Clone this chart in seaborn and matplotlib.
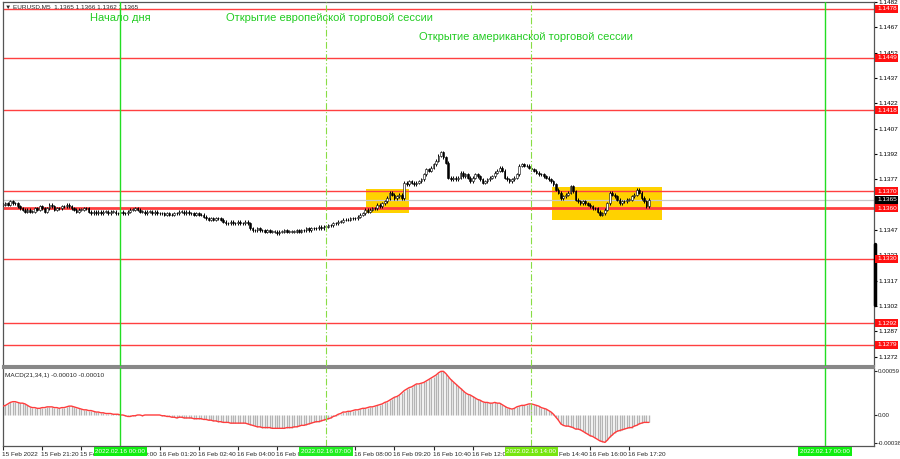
import datetime as dt
import numpy as np
import pandas as pd
import seaborn as sns
import matplotlib
matplotlib.use('Agg')
import matplotlib.pyplot as plt
import matplotlib.transforms as mtrans
from matplotlib.patches import Rectangle

# EURUSD M5 closes, pips above 1.1300, bars from 15 Feb 20:00
closes = [62, 63, 62, 64, 63, 63, 61, 60, 59, 58,
          59, 58, 58, 60, 59, 61, 60, 58, 60, 62,
          61, 59, 60, 60, 61, 61, 62, 61, 60, 59,
          58, 59, 59, 60, 60, 58, 57, 58, 57, 58,
          57, 58, 58, 57, 58, 58, 57, 57, 58, 57,
          57, 58, 59, 59, 60, 59, 58, 58, 57, 58,
          58, 57, 58, 57, 57, 57, 56, 57, 56, 56,
          57, 57, 58, 58, 57, 58, 57, 57, 56, 57,
          56, 56, 55, 54, 53, 54, 53, 54, 54, 53,
          52, 51, 51, 52, 51, 51, 52, 51, 51, 52,
          51, 48, 47, 47, 48, 47, 47, 46, 47, 46,
          46, 46, 45, 46, 46, 47, 46, 46, 46, 46,
          47, 46, 47, 47, 48, 47, 48, 48, 48, 49,
          48, 49, 49, 50, 50, 51, 51, 52, 52, 53,
          53, 53, 54, 54, 54, 55, 56, 57, 59, 58,
          59, 60, 60, 62, 61, 63, 64, 66, 69, 68,
          66, 67, 68, 66, 75, 74, 76, 75, 74, 75,
          76, 77, 80, 83, 82, 84, 86, 88, 91, 93,
          90, 87, 78, 77, 78, 77, 78, 81, 79, 80,
          78, 76, 78, 80, 79, 77, 75, 76, 77, 78,
          79, 81, 82, 84, 82, 78, 77, 76, 77, 78,
          80, 85, 86, 85, 85, 84, 83, 82, 81, 80,
          80, 79, 78, 77, 76, 74, 71, 69, 66, 67,
          68, 69, 73, 70, 65, 64, 63, 64, 63, 62,
          61, 60, 60, 58, 56, 57, 59, 63, 69, 68,
          67, 65, 63, 64, 64, 65, 65, 67, 68, 71,
          69, 66, 64, 61, 65]

# MACD(21,34,1) main values in 1e-5
macd = [12, 13, 15, 17, 18, 18, 17, 16, 16, 15,
        13, 11, 10, 10, 9, 9, 10, 10, 11, 11,
        11, 10, 10, 9, 10, 10, 11, 12, 12, 11,
        10, 9, 8, 7, 7, 6, 6, 5, 4, 4,
        3, 3, 2, 2, 2, 1, 1, 1, 0, 0,
        -1, -2, -2, -1, -1, 0, 0, -1, 0, 0,
        0, 0, 0, 0, 0, -1, -1, -2, -2, -3,
        -3, -4, -3, -3, -4, -4, -4, -4, -5, -5,
        -5, -5, -6, -6, -7, -7, -8, -8, -9, -9,
        -10, -10, -10, -11, -11, -11, -11, -11, -11, -11,
        -12, -13, -14, -15, -16, -16, -17, -17, -17, -17,
        -18, -18, -18, -18, -18, -18, -17, -17, -17, -16,
        -16, -15, -14, -14, -13, -12, -11, -10, -9, -9,
        -8, -7, -6, -5, -4, -2, -1, 1, 2, 4,
        4, 5, 5, 6, 7, 7, 8, 9, 9, 10,
        11, 11, 12, 13, 14, 15, 17, 18, 20, 22,
        24, 25, 27, 30, 33, 35, 37, 38, 40, 42,
        42, 43, 44, 46, 48, 50, 52, 54, 57, 59,
        59, 56, 52, 48, 45, 42, 39, 36, 33, 30,
        28, 27, 25, 23, 21, 20, 18, 17, 17, 16,
        16, 17, 16, 16, 14, 12, 10, 9, 8, 9,
        11, 12, 13, 13, 14, 15, 15, 14, 13, 12,
        10, 9, 8, 6, 4, 1, -3, -7, -12, -14,
        -15, -15, -16, -17, -19, -19, -20, -22, -24, -26,
        -28, -29, -31, -33, -35, -36, -37, -34, -30, -27,
        -24, -22, -21, -20, -19, -18, -17, -17, -15, -14,
        -12, -11, -10, -10, -10]

levels = [1.1478, 1.1449, 1.1418, 1.1370, 1.1360, 1.1330, 1.1292, 1.1279]
level_lw = [1, 1, 1, 1, 2, 1, 1, 1]
bid = 1.1365
price_ticks = [1.1482, 1.1467, 1.1452, 1.1437, 1.1422, 1.1407, 1.1392, 1.1377,
               1.1347, 1.1332, 1.1317, 1.1302, 1.1287, 1.1272]
# highlighted zones: (first bar, last bar, low, high)
zones = [(148.2, 165.8, 1.13569, 1.13711), (224.3, 269.3, 1.13529, 1.13726)]
day_start = 48          # 16 Feb 00:00
eu_open = 132           # 16 Feb 07:00
us_open = 216           # 16 Feb 14:00
next_day = 336          # 17 Feb 00:00
t0 = dt.datetime(2022, 2, 15, 20, 0)

assert len(closes) == len(macd)
n = len(closes)
idx = np.arange(n)
df = pd.DataFrame({'i': idx, 'close': 1.13 + np.array(closes) / 10000,
                   'macd': np.array(macd) / 1e5})
df['open'] = df['close'].shift(1).fillna(df['close'].iloc[0])
wick = 0.00009
df['high'] = df[['open', 'close']].max(axis=1) + wick
df['low'] = df[['open', 'close']].min(axis=1) - wick

sns.set_style('white')
plt.rcParams['font.family'] = ['Liberation Sans', 'DejaVu Sans']
small = 4.6

fig = plt.figure(figsize=(9, 4.59), dpi=100)
ax = fig.add_axes([3 / 900, 1 - 366 / 459, 871 / 900, 364 / 459])
ax2 = fig.add_axes([3 / 900, 1 - 446 / 459, 871 / 900, 78 / 459], sharex=ax)

xmin, xmax = 0, 356
ax.set_xlim(xmin, xmax)
ax.set_ylim(1.126657, 1.148195)
ax2.set_ylim(-0.000419, 0.000635)

# zones
for x0, x1, lo, hi in zones:
    ax.add_patch(Rectangle((x0, lo), x1 - x0, hi - lo, facecolor='#ffd200',
                           edgecolor='none', zorder=1))

# levels
for lv, lw in zip(levels, level_lw):
    ax.axhline(lv, color='#ff4040', lw=lw, zorder=2)
ax.axhline(bid, color='#c8c8c8', lw=0.9, zorder=1.5)

# candles
ax.vlines(df['i'], df['low'], df['high'], color='black', lw=0.7, zorder=3)
up = df['close'] >= df['open']
body = (df['close'] - df['open']).abs().clip(lower=0.00002)
bottom = df[['open', 'close']].min(axis=1)
ax.bar(df['i'][up], body[up], bottom=bottom[up], width=0.7, color='white',
       edgecolor='black', lw=0.4, zorder=4)
ax.bar(df['i'][~up], body[~up], bottom=bottom[~up], width=0.7, color='black',
       edgecolor='black', lw=0.4, zorder=4)

# MACD
ax2.vlines(df['i'], 0, df['macd'], color='#b4b4b4', lw=1.0, zorder=2)
sns.lineplot(data=df, x='i', y='macd', ax=ax2, color='#ff3c3c', lw=1, zorder=3)

# session lines
for a in (ax, ax2):
    for xv in (day_start, next_day):
        a.axvline(xv, color='#22dd22', lw=1, zorder=5)
    for xv in (eu_open, us_open):
        a.axvline(xv, color='#88dd44', lw=0.8, ls=(0, (6, 2, 1, 2)), zorder=5)

green = '#22cc22'
ax.text(35.5, 1.14725, 'Начало дня', color=green, fontsize=8, va='center')
ax.text(91, 1.14725, 'Открытие европейской торговой сессии', color=green,
        fontsize=8, va='center')
ax.text(170, 1.14612, 'Открытие американской торговой сессии', color=green,
        fontsize=8, va='center')

ax.text(0.002, 0.993, '\u25bc EURUSD,M5  1.1365 1.1366 1.1362 1.1365',
        transform=ax.transAxes, fontsize=small, va='top', ha='left')
ax2.text(0.002, 0.93, 'MACD(21,34,1) -0.00010 -0.00010',
         transform=ax2.transAxes, fontsize=small, va='top', ha='left')

# price axis
ax.yaxis.tick_right()
ax.set_yticks(price_ticks)
ax.set_yticklabels([f'{v:.4f}' for v in price_ticks])
ax.tick_params(axis='y', labelsize=small, length=2, pad=1, colors='black')
ax.tick_params(axis='x', bottom=False, labelbottom=False)
ax.set_xlabel('')
ax.set_ylabel('')

ymark = mtrans.blended_transform_factory(ax.transAxes, ax.transData)
for lv in levels:
    ax.text(1.0035, lv, f'{lv:.4f}', transform=ymark, fontsize=small, color='white',
            va='center', ha='left', clip_on=False, zorder=10,
            bbox=dict(boxstyle='square,pad=0.25', fc='#ff1010', ec='none'))
ax.text(1.0035, bid, f'{bid:.4f}', transform=ymark, fontsize=small, color='white',
        va='center', ha='left', clip_on=False, zorder=10,
        bbox=dict(boxstyle='square,pad=0.25', fc='black', ec='none'))
ax.plot([1.001, 1.001], [1.13027, 1.13388], transform=ymark, color='black', lw=2.5,
        clip_on=False, zorder=6)

ax2.yaxis.tick_right()
ax2.set_yticks([0.00059, 0.0, -0.00038])
ax2.set_yticklabels(['0.00059', '0.00', '-0.00038'])
ax2.tick_params(axis='y', labelsize=small - 0.2, length=2, pad=0.5)
ax2.set_ylabel('')
ax2.set_xlabel('')

# time axis
tpos = list(range(0, 257, 16))
tlab = []
for p in tpos:
    t = t0 + dt.timedelta(minutes=5 * p)
    tlab.append(t.strftime('%d %b %Y') if p == 0 else t.strftime('%d %b %H:%M'))
ax2.set_xticks(tpos)
ax2.set_xticklabels(tlab, ha='left', fontsize=small)
ax2.tick_params(axis='x', length=3, pad=1.5, direction='out', bottom=True)
for lbl in ax2.get_xticklabels():
    lbl.set_transform(lbl.get_transform() + mtrans.ScaledTranslation(-1 / 100, 0, fig.dpi_scale_trans))

xmark = mtrans.blended_transform_factory(ax2.transData, ax2.transAxes)
for xv, txt, fc in [(day_start, '2022.02.16 00:00', '#11ee11'),
                    (eu_open, '2022.02.16 07:00', '#22ee22'),
                    (us_open, '2022.02.16 14:00', '#77e611'),
                    (next_day, '2022.02.17 00:00', '#11ee11')]:
    ax2.text(xv, -0.07, txt, transform=xmark, fontsize=small, color='white',
             ha='center', va='center', clip_on=False, zorder=10,
             bbox=dict(boxstyle='square,pad=0.3', fc=fc, ec='none'))

for a in (ax, ax2):
    for s in a.spines.values():
        s.set_color('#555555')
        s.set_linewidth(0.9)
ax.spines['bottom'].set_color('#888888')
ax.spines['bottom'].set_linewidth(1.5)
ax2.spines['top'].set_color('#888888')
ax2.spines['top'].set_linewidth(1.5)

fig.savefig('out.png', dpi=100)
